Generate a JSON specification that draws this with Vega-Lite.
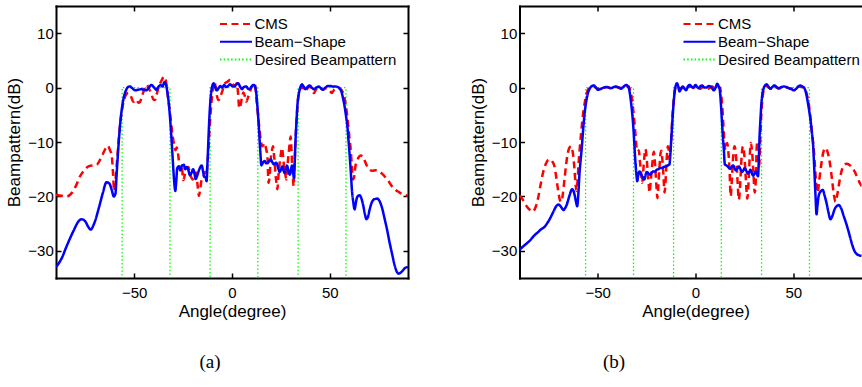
{
  "$schema": "https://vega.github.io/schema/vega-lite/v6.json",
  "padding": {"left": 5, "top": 5, "right": 0, "bottom": 0},
  "bounds": "flush",
  "spacing": 111.5,
  "config": {
    "font": "Liberation Sans",
    "view": {"stroke": null},
    "axis": {
      "domainColor": "black", "domainWidth": 2, "domainCap": "square",
      "tickColor": "black", "tickWidth": 1.5, "tickSize": -5,
      "labelColor": "black", "labelFontSize": 15, "labelFont": "Liberation Sans",
      "titleFont": "Liberation Sans", "titleFontSize": 17, "titleFontWeight": "normal", "titleColor": "black",
      "grid": false, "zindex": 1
    },
    "title": {"font": "Liberation Serif", "fontSize": 19, "fontWeight": "normal", "color": "black"}
  },
  "datasets": {
    "a": [
      {"series":"Desired Beampattern","angle":-56.2,"dB":-40,"seq":1},
      {"series":"Desired Beampattern","angle":-56.2,"dB":0,"seq":2},
      {"series":"Desired Beampattern","angle":-31.7,"dB":0,"seq":3},
      {"series":"Desired Beampattern","angle":-31.7,"dB":-40,"seq":4},
      {"series":"Desired Beampattern","angle":-11.2,"dB":-40,"seq":5},
      {"series":"Desired Beampattern","angle":-11.2,"dB":0,"seq":6},
      {"series":"Desired Beampattern","angle":13.2,"dB":0,"seq":7},
      {"series":"Desired Beampattern","angle":13.2,"dB":-40,"seq":8},
      {"series":"Desired Beampattern","angle":33.8,"dB":-40,"seq":9},
      {"series":"Desired Beampattern","angle":33.8,"dB":0,"seq":10},
      {"series":"Desired Beampattern","angle":58.3,"dB":0,"seq":11},
      {"series":"Desired Beampattern","angle":58.3,"dB":-40,"seq":12},
      {"series":"CMS","angle":-90,"dB":-19.7},{"series":"CMS","angle":-87,"dB":-19.9},{"series":"CMS","angle":-84.5,"dB":-20.0},{"series":"CMS","angle":-82,"dB":-19.4},{"series":"CMS","angle":-80,"dB":-18.2},{"series":"CMS","angle":-77.7,"dB":-16.3},{"series":"CMS","angle":-75.5,"dB":-15.2},{"series":"CMS","angle":-73.4,"dB":-14.5},{"series":"CMS","angle":-71,"dB":-14.3},{"series":"CMS","angle":-69.2,"dB":-14.2},{"series":"CMS","angle":-67.5,"dB":-13.3},{"series":"CMS","angle":-66,"dB":-12.2},{"series":"CMS","angle":-64.5,"dB":-11.1},{"series":"CMS","angle":-63.5,"dB":-10.7},{"series":"CMS","angle":-62.4,"dB":-11.5},{"series":"CMS","angle":-61.5,"dB":-12.5},{"series":"CMS","angle":-60.8,"dB":-16.0},{"series":"CMS","angle":-60.3,"dB":-19.0},{"series":"CMS","angle":-59.7,"dB":-17.5},{"series":"CMS","angle":-59,"dB":-14.5},{"series":"CMS","angle":-58.2,"dB":-10.8},{"series":"CMS","angle":-57.3,"dB":-7.1},{"series":"CMS","angle":-56.2,"dB":-4.0},{"series":"CMS","angle":-55.2,"dB":-2.3},{"series":"CMS","angle":-54,"dB":-1.2},{"series":"CMS","angle":-53,"dB":-1.0},{"series":"CMS","angle":-51.8,"dB":-1.5},{"series":"CMS","angle":-50.4,"dB":-2.6},{"series":"CMS","angle":-49,"dB":-2.2},{"series":"CMS","angle":-47.8,"dB":-2.8},{"series":"CMS","angle":-47,"dB":-2.6},{"series":"CMS","angle":-46,"dB":-1.5},{"series":"CMS","angle":-44.8,"dB":-0.3},{"series":"CMS","angle":-43.6,"dB":0.5},{"series":"CMS","angle":-42.5,"dB":-0.2},{"series":"CMS","angle":-41.3,"dB":-1.0},{"series":"CMS","angle":-40.2,"dB":-2.2},{"series":"CMS","angle":-39.4,"dB":-2.3},{"series":"CMS","angle":-38.5,"dB":-1.2},{"series":"CMS","angle":-37.6,"dB":0},{"series":"CMS","angle":-36.6,"dB":0.9},{"series":"CMS","angle":-35.6,"dB":1.6},{"series":"CMS","angle":-35,"dB":2.0},{"series":"CMS","angle":-34.2,"dB":1.8},{"series":"CMS","angle":-33.5,"dB":0.5},{"series":"CMS","angle":-32.7,"dB":-1.8},{"series":"CMS","angle":-31.7,"dB":-4.7},{"series":"CMS","angle":-31,"dB":-7.0},{"series":"CMS","angle":-30.3,"dB":-9.0},{"series":"CMS","angle":-29.6,"dB":-10.5},{"series":"CMS","angle":-28.9,"dB":-11.5},{"series":"CMS","angle":-28.3,"dB":-11.0},{"series":"CMS","angle":-27.5,"dB":-12.4},{"series":"CMS","angle":-26.6,"dB":-15.2},{"series":"CMS","angle":-25.7,"dB":-14.5},{"series":"CMS","angle":-24.9,"dB":-17.0},{"series":"CMS","angle":-24,"dB":-15.8},{"series":"CMS","angle":-23.3,"dB":-14.8},{"series":"CMS","angle":-22.3,"dB":-14.6},{"series":"CMS","angle":-21.5,"dB":-15.9},{"series":"CMS","angle":-20.8,"dB":-16.5},{"series":"CMS","angle":-20.1,"dB":-16.9},{"series":"CMS","angle":-19.2,"dB":-15.8},{"series":"CMS","angle":-18.4,"dB":-15.6},{"series":"CMS","angle":-17.7,"dB":-17.6},{"series":"CMS","angle":-16.9,"dB":-19.9},{"series":"CMS","angle":-16.2,"dB":-18.5},{"series":"CMS","angle":-15.5,"dB":-16.9},{"series":"CMS","angle":-14.7,"dB":-16.6},{"series":"CMS","angle":-13.8,"dB":-15.5},{"series":"CMS","angle":-13.3,"dB":-16.1},{"series":"CMS","angle":-12.5,"dB":-13.8},{"series":"CMS","angle":-11.6,"dB":-8.5},{"series":"CMS","angle":-10.9,"dB":-4.5},{"series":"CMS","angle":-10.4,"dB":-2.3},{"series":"CMS","angle":-9.5,"dB":0.5},{"series":"CMS","angle":-9,"dB":1.0},{"series":"CMS","angle":-8.4,"dB":0.2},{"series":"CMS","angle":-7.7,"dB":-1.5},{"series":"CMS","angle":-7,"dB":-2.3},{"series":"CMS","angle":-6.2,"dB":-2.0},{"series":"CMS","angle":-5.3,"dB":-1.0},{"series":"CMS","angle":-4.4,"dB":-0.1},{"series":"CMS","angle":-3.6,"dB":0.8},{"series":"CMS","angle":-2.3,"dB":1.1},{"series":"CMS","angle":-1,"dB":1.4},{"series":"CMS","angle":0,"dB":1.0},{"series":"CMS","angle":0.7,"dB":0.5},{"series":"CMS","angle":1.6,"dB":0.3},{"series":"CMS","angle":2.4,"dB":0.8},{"series":"CMS","angle":3.1,"dB":-1.0},{"series":"CMS","angle":3.7,"dB":-3.8},{"series":"CMS","angle":4.4,"dB":-3.2},{"series":"CMS","angle":5.1,"dB":-1.8},{"series":"CMS","angle":5.8,"dB":-0.9},{"series":"CMS","angle":6.6,"dB":-1.6},{"series":"CMS","angle":7.3,"dB":-2.6},{"series":"CMS","angle":8.2,"dB":-1.8},{"series":"CMS","angle":9.0,"dB":-1.0},{"series":"CMS","angle":9.8,"dB":-0.1},{"series":"CMS","angle":10.7,"dB":0.5},{"series":"CMS","angle":11.4,"dB":0.8},{"series":"CMS","angle":12.0,"dB":0.0},{"series":"CMS","angle":12.6,"dB":-2.5},{"series":"CMS","angle":13.3,"dB":-5.0},{"series":"CMS","angle":14.0,"dB":-7.5},{"series":"CMS","angle":14.7,"dB":-9.6},{"series":"CMS","angle":15.4,"dB":-10.8},{"series":"CMS","angle":16.0,"dB":-10.6},{"series":"CMS","angle":16.7,"dB":-10.2},{"series":"CMS","angle":17.4,"dB":-11.2},{"series":"CMS","angle":18.1,"dB":-12.6},{"series":"CMS","angle":18.7,"dB":-17.5},{"series":"CMS","angle":19.3,"dB":-16.0},{"series":"CMS","angle":19.8,"dB":-13.2},{"series":"CMS","angle":20.4,"dB":-11.6},{"series":"CMS","angle":21,"dB":-10.8},{"series":"CMS","angle":21.6,"dB":-12.8},{"series":"CMS","angle":22.2,"dB":-15.7},{"series":"CMS","angle":22.7,"dB":-17.5},{"series":"CMS","angle":23.2,"dB":-18.7},{"series":"CMS","angle":23.8,"dB":-16.0},{"series":"CMS","angle":24.4,"dB":-13.8},{"series":"CMS","angle":25,"dB":-12.2},{"series":"CMS","angle":25.6,"dB":-11.1},{"series":"CMS","angle":26.1,"dB":-12.6},{"series":"CMS","angle":26.6,"dB":-14.5},{"series":"CMS","angle":27.2,"dB":-15.8},{"series":"CMS","angle":27.8,"dB":-16.9},{"series":"CMS","angle":28.4,"dB":-14.2},{"series":"CMS","angle":29,"dB":-12.0},{"series":"CMS","angle":29.5,"dB":-10.2},{"series":"CMS","angle":30,"dB":-9.0},{"series":"CMS","angle":30.4,"dB":-11.5},{"series":"CMS","angle":30.8,"dB":-14.5},{"series":"CMS","angle":31.2,"dB":-16.8},{"series":"CMS","angle":31.5,"dB":-18.1},{"series":"CMS","angle":32,"dB":-14.0},{"series":"CMS","angle":32.5,"dB":-9.6},{"series":"CMS","angle":33.1,"dB":-5.5},{"series":"CMS","angle":33.7,"dB":-2.3},{"series":"CMS","angle":34.4,"dB":-0.8},{"series":"CMS","angle":35.1,"dB":-0.1},{"series":"CMS","angle":35.8,"dB":0.1},{"series":"CMS","angle":36.6,"dB":-0.2},{"series":"CMS","angle":37.5,"dB":-0.7},{"series":"CMS","angle":38.5,"dB":-0.2},{"series":"CMS","angle":39.7,"dB":0.2},{"series":"CMS","angle":40.8,"dB":-0.4},{"series":"CMS","angle":41.9,"dB":-1.0},{"series":"CMS","angle":43,"dB":-0.3},{"series":"CMS","angle":44.3,"dB":0.1},{"series":"CMS","angle":45.4,"dB":-0.1},{"series":"CMS","angle":46.5,"dB":-0.4},{"series":"CMS","angle":47.8,"dB":-0.1},{"series":"CMS","angle":49.1,"dB":-0.2},{"series":"CMS","angle":50.1,"dB":-0.6},{"series":"CMS","angle":51.1,"dB":-1.0},{"series":"CMS","angle":52.2,"dB":-0.4},{"series":"CMS","angle":53.3,"dB":-0.1},{"series":"CMS","angle":54.6,"dB":-0.1},{"series":"CMS","angle":55.9,"dB":-0.4},{"series":"CMS","angle":56.8,"dB":-1.0},{"series":"CMS","angle":57.6,"dB":-2.0},{"series":"CMS","angle":58.5,"dB":-4.0},{"series":"CMS","angle":59.3,"dB":-6.5},{"series":"CMS","angle":60,"dB":-9.0},{"series":"CMS","angle":60.7,"dB":-11.4},{"series":"CMS","angle":61.3,"dB":-14.5},{"series":"CMS","angle":61.9,"dB":-16.9},{"series":"CMS","angle":62.4,"dB":-16.5},{"series":"CMS","angle":63.1,"dB":-14.5},{"series":"CMS","angle":64,"dB":-13.4},{"series":"CMS","angle":64.8,"dB":-12.8},{"series":"CMS","angle":65.8,"dB":-12.5},{"series":"CMS","angle":66.8,"dB":-12.6},{"series":"CMS","angle":67.8,"dB":-13.4},{"series":"CMS","angle":69,"dB":-14.4},{"series":"CMS","angle":70.4,"dB":-15.1},{"series":"CMS","angle":71.8,"dB":-15.3},{"series":"CMS","angle":73.3,"dB":-15.2},{"series":"CMS","angle":74.6,"dB":-15.3},{"series":"CMS","angle":75.7,"dB":-15.5},{"series":"CMS","angle":77,"dB":-15.9},{"series":"CMS","angle":78.5,"dB":-16.5},{"series":"CMS","angle":79.9,"dB":-17.1},{"series":"CMS","angle":81.5,"dB":-18.0},{"series":"CMS","angle":83.2,"dB":-18.7},{"series":"CMS","angle":84.9,"dB":-19.1},{"series":"CMS","angle":86.6,"dB":-19.5},{"series":"CMS","angle":88.3,"dB":-19.7},{"series":"CMS","angle":90,"dB":-19.9},
      {"series":"Beam−Shape","angle":-90,"dB":-33.0},{"series":"Beam−Shape","angle":-87,"dB":-31.3},{"series":"Beam−Shape","angle":-84.5,"dB":-29.1},{"series":"Beam−Shape","angle":-81,"dB":-26.3},{"series":"Beam−Shape","angle":-78.5,"dB":-24.6},{"series":"Beam−Shape","angle":-76.9,"dB":-24.2},{"series":"Beam−Shape","angle":-75,"dB":-24.6},{"series":"Beam−Shape","angle":-73.5,"dB":-25.6},{"series":"Beam−Shape","angle":-72.3,"dB":-26.1},{"series":"Beam−Shape","angle":-70.5,"dB":-25.0},{"series":"Beam−Shape","angle":-68,"dB":-22.0},{"series":"Beam−Shape","angle":-66,"dB":-19.3},{"series":"Beam−Shape","angle":-64.2,"dB":-17.4},{"series":"Beam−Shape","angle":-62.8,"dB":-17.6},{"series":"Beam−Shape","angle":-61.5,"dB":-18.8},{"series":"Beam−Shape","angle":-60.5,"dB":-20.0},{"series":"Beam−Shape","angle":-59.6,"dB":-19.5},{"series":"Beam−Shape","angle":-59,"dB":-16.0},{"series":"Beam−Shape","angle":-58.2,"dB":-11.5},{"series":"Beam−Shape","angle":-57.3,"dB":-7.1},{"series":"Beam−Shape","angle":-56.3,"dB":-3.8},{"series":"Beam−Shape","angle":-55.2,"dB":-1.6},{"series":"Beam−Shape","angle":-54.2,"dB":-0.5},{"series":"Beam−Shape","angle":-53.2,"dB":0.1},{"series":"Beam−Shape","angle":-52.2,"dB":0.2},{"series":"Beam−Shape","angle":-51,"dB":-0.1},{"series":"Beam−Shape","angle":-49.5,"dB":-0.5},{"series":"Beam−Shape","angle":-48,"dB":-0.4},{"series":"Beam−Shape","angle":-46.5,"dB":-0.3},{"series":"Beam−Shape","angle":-45,"dB":-0.4},{"series":"Beam−Shape","angle":-43.8,"dB":-0.5},{"series":"Beam−Shape","angle":-42.5,"dB":0},{"series":"Beam−Shape","angle":-41.2,"dB":0.5},{"series":"Beam−Shape","angle":-40,"dB":0.1},{"series":"Beam−Shape","angle":-38.7,"dB":-0.4},{"series":"Beam−Shape","angle":-37.5,"dB":0.2},{"series":"Beam−Shape","angle":-36.5,"dB":0.5},{"series":"Beam−Shape","angle":-35.5,"dB":0.2},{"series":"Beam−Shape","angle":-34.6,"dB":1.0},{"series":"Beam−Shape","angle":-33.8,"dB":0.6},{"series":"Beam−Shape","angle":-33,"dB":-1.0},{"series":"Beam−Shape","angle":-32.3,"dB":-3.0},{"series":"Beam−Shape","angle":-31.7,"dB":-5.5},{"series":"Beam−Shape","angle":-31.1,"dB":-8.5},{"series":"Beam−Shape","angle":-30.5,"dB":-12},{"series":"Beam−Shape","angle":-30,"dB":-15},{"series":"Beam−Shape","angle":-29.4,"dB":-18.0},{"series":"Beam−Shape","angle":-29,"dB":-19.0},{"series":"Beam−Shape","angle":-28.5,"dB":-17.2},{"series":"Beam−Shape","angle":-28,"dB":-14.8},{"series":"Beam−Shape","angle":-27.2,"dB":-14.5},{"series":"Beam−Shape","angle":-26.4,"dB":-15.2},{"series":"Beam−Shape","angle":-25.5,"dB":-14.3},{"series":"Beam−Shape","angle":-24.6,"dB":-14.2},{"series":"Beam−Shape","angle":-24,"dB":-15.0},{"series":"Beam−Shape","angle":-23.1,"dB":-14.6},{"series":"Beam−Shape","angle":-22.3,"dB":-15.2},{"series":"Beam−Shape","angle":-21.5,"dB":-16.1},{"series":"Beam−Shape","angle":-20.6,"dB":-15.6},{"series":"Beam−Shape","angle":-19.9,"dB":-15.0},{"series":"Beam−Shape","angle":-19.2,"dB":-15.8},{"series":"Beam−Shape","angle":-18.6,"dB":-16.8},{"series":"Beam−Shape","angle":-17.8,"dB":-16.2},{"series":"Beam−Shape","angle":-17,"dB":-15.3},{"series":"Beam−Shape","angle":-16.2,"dB":-14.6},{"series":"Beam−Shape","angle":-15.5,"dB":-14.3},{"series":"Beam−Shape","angle":-14.8,"dB":-15.4},{"series":"Beam−Shape","angle":-14.2,"dB":-16.4},{"series":"Beam−Shape","angle":-13.5,"dB":-16.5},{"series":"Beam−Shape","angle":-13,"dB":-17.2},{"series":"Beam−Shape","angle":-12.5,"dB":-13.5},{"series":"Beam−Shape","angle":-12,"dB":-9.0},{"series":"Beam−Shape","angle":-11.5,"dB":-5.0},{"series":"Beam−Shape","angle":-11,"dB":-2.2},{"series":"Beam−Shape","angle":-10.5,"dB":-0.5},{"series":"Beam−Shape","angle":-10,"dB":0.4},{"series":"Beam−Shape","angle":-9.4,"dB":0.8},{"series":"Beam−Shape","angle":-8.7,"dB":0.2},{"series":"Beam−Shape","angle":-7.8,"dB":-0.5},{"series":"Beam−Shape","angle":-7,"dB":-0.2},{"series":"Beam−Shape","angle":-6,"dB":0.3},{"series":"Beam−Shape","angle":-5,"dB":0.0},{"series":"Beam−Shape","angle":-4,"dB":0.5},{"series":"Beam−Shape","angle":-3,"dB":0.1},{"series":"Beam−Shape","angle":-2,"dB":0.3},{"series":"Beam−Shape","angle":-1,"dB":0.6},{"series":"Beam−Shape","angle":0,"dB":0.3},{"series":"Beam−Shape","angle":1,"dB":0.2},{"series":"Beam−Shape","angle":2,"dB":0.5},{"series":"Beam−Shape","angle":3.1,"dB":0.8},{"series":"Beam−Shape","angle":4,"dB":0.3},{"series":"Beam−Shape","angle":5.1,"dB":-0.3},{"series":"Beam−Shape","angle":6,"dB":0.1},{"series":"Beam−Shape","angle":7.3,"dB":0.2},{"series":"Beam−Shape","angle":8.2,"dB":-0.2},{"series":"Beam−Shape","angle":9,"dB":-0.3},{"series":"Beam−Shape","angle":10,"dB":0.2},{"series":"Beam−Shape","angle":11.2,"dB":0.5},{"series":"Beam−Shape","angle":11.9,"dB":0.1},{"series":"Beam−Shape","angle":12.4,"dB":-1.0},{"series":"Beam−Shape","angle":13,"dB":-3.5},{"series":"Beam−Shape","angle":13.6,"dB":-6.5},{"series":"Beam−Shape","angle":14.1,"dB":-9.5},{"series":"Beam−Shape","angle":14.6,"dB":-12.5},{"series":"Beam−Shape","angle":15,"dB":-14.3},{"series":"Beam−Shape","angle":15.8,"dB":-13.8},{"series":"Beam−Shape","angle":16.7,"dB":-13.5},{"series":"Beam−Shape","angle":17.5,"dB":-13.9},{"series":"Beam−Shape","angle":18.4,"dB":-13.8},{"series":"Beam−Shape","angle":19.1,"dB":-13.4},{"series":"Beam−Shape","angle":19.8,"dB":-13.2},{"series":"Beam−Shape","angle":20.6,"dB":-13.7},{"series":"Beam−Shape","angle":21.5,"dB":-14.1},{"series":"Beam−Shape","angle":22.1,"dB":-13.9},{"series":"Beam−Shape","angle":22.7,"dB":-13.8},{"series":"Beam−Shape","angle":23.6,"dB":-14.8},{"series":"Beam−Shape","angle":24.4,"dB":-15.5},{"series":"Beam−Shape","angle":25.1,"dB":-15.0},{"series":"Beam−Shape","angle":25.7,"dB":-14.5},{"series":"Beam−Shape","angle":26.3,"dB":-15.2},{"series":"Beam−Shape","angle":26.9,"dB":-15.7},{"series":"Beam−Shape","angle":27.5,"dB":-15.0},{"series":"Beam−Shape","angle":28.1,"dB":-14.3},{"series":"Beam−Shape","angle":28.8,"dB":-15.2},{"series":"Beam−Shape","angle":29.5,"dB":-16.0},{"series":"Beam−Shape","angle":30.1,"dB":-15.2},{"series":"Beam−Shape","angle":30.7,"dB":-14.3},{"series":"Beam−Shape","angle":31.2,"dB":-15.5},{"series":"Beam−Shape","angle":31.7,"dB":-16.6},{"series":"Beam−Shape","angle":32.1,"dB":-13.5},{"series":"Beam−Shape","angle":32.5,"dB":-9.6},{"series":"Beam−Shape","angle":33,"dB":-6.0},{"series":"Beam−Shape","angle":33.4,"dB":-3.5},{"series":"Beam−Shape","angle":34,"dB":-1.5},{"series":"Beam−Shape","angle":34.6,"dB":-0.4},{"series":"Beam−Shape","angle":35.2,"dB":0.3},{"series":"Beam−Shape","angle":35.8,"dB":0.6},{"series":"Beam−Shape","angle":36.6,"dB":0.2},{"series":"Beam−Shape","angle":37.5,"dB":-0.3},{"series":"Beam−Shape","angle":38.6,"dB":0.1},{"series":"Beam−Shape","angle":39.7,"dB":0.4},{"series":"Beam−Shape","angle":40.8,"dB":0.0},{"series":"Beam−Shape","angle":41.9,"dB":-0.3},{"series":"Beam−Shape","angle":43.1,"dB":0.0},{"series":"Beam−Shape","angle":44.3,"dB":0.2},{"series":"Beam−Shape","angle":45.4,"dB":-0.1},{"series":"Beam−Shape","angle":46.5,"dB":-0.4},{"series":"Beam−Shape","angle":47.8,"dB":0.0},{"series":"Beam−Shape","angle":49.1,"dB":0.3},{"series":"Beam−Shape","angle":50.3,"dB":0.3},{"series":"Beam−Shape","angle":51.6,"dB":0.2},{"series":"Beam−Shape","angle":52.9,"dB":0.2},{"series":"Beam−Shape","angle":54.2,"dB":0.1},{"series":"Beam−Shape","angle":55.1,"dB":-0.2},{"series":"Beam−Shape","angle":55.9,"dB":-0.7},{"series":"Beam−Shape","angle":56.8,"dB":-2.0},{"series":"Beam−Shape","angle":57.6,"dB":-3.5},{"series":"Beam−Shape","angle":58.3,"dB":-5.2},{"series":"Beam−Shape","angle":59,"dB":-7.1},{"series":"Beam−Shape","angle":59.6,"dB":-9.8},{"series":"Beam−Shape","angle":60.2,"dB":-12.6},{"series":"Beam−Shape","angle":60.8,"dB":-15.8},{"series":"Beam−Shape","angle":61.3,"dB":-18.7},{"series":"Beam−Shape","angle":62,"dB":-21.0},{"series":"Beam−Shape","angle":62.7,"dB":-22.4},{"series":"Beam−Shape","angle":63.2,"dB":-21.5},{"series":"Beam−Shape","angle":63.7,"dB":-20.5},{"series":"Beam−Shape","angle":64.5,"dB":-19.9},{"series":"Beam−Shape","angle":65.3,"dB":-19.8},{"series":"Beam−Shape","angle":66.2,"dB":-20.4},{"series":"Beam−Shape","angle":67,"dB":-21.5},{"series":"Beam−Shape","angle":68,"dB":-23.3},{"series":"Beam−Shape","angle":68.7,"dB":-24.2},{"series":"Beam−Shape","angle":69.5,"dB":-23.8},{"series":"Beam−Shape","angle":70.4,"dB":-22.4},{"series":"Beam−Shape","angle":71.6,"dB":-21.0},{"series":"Beam−Shape","angle":72.9,"dB":-20.5},{"series":"Beam−Shape","angle":74.2,"dB":-20.4},{"series":"Beam−Shape","angle":75.5,"dB":-20.9},{"series":"Beam−Shape","angle":76.8,"dB":-22.2},{"series":"Beam−Shape","angle":78.1,"dB":-24.2},{"series":"Beam−Shape","angle":79.4,"dB":-26.3},{"series":"Beam−Shape","angle":80.6,"dB":-28.5},{"series":"Beam−Shape","angle":82,"dB":-30.8},{"series":"Beam−Shape","angle":83.2,"dB":-32.7},{"series":"Beam−Shape","angle":84.2,"dB":-33.8},{"series":"Beam−Shape","angle":85.2,"dB":-34.2},{"series":"Beam−Shape","angle":86.3,"dB":-34.0},{"series":"Beam−Shape","angle":87.4,"dB":-33.6},{"series":"Beam−Shape","angle":88.7,"dB":-33.1},{"series":"Beam−Shape","angle":90,"dB":-33.0}
    ],
    "b": [
      {"series":"Desired Beampattern","angle":-56.2,"dB":-40,"seq":1},
      {"series":"Desired Beampattern","angle":-56.2,"dB":0,"seq":2},
      {"series":"Desired Beampattern","angle":-31.7,"dB":0,"seq":3},
      {"series":"Desired Beampattern","angle":-31.7,"dB":-40,"seq":4},
      {"series":"Desired Beampattern","angle":-11.2,"dB":-40,"seq":5},
      {"series":"Desired Beampattern","angle":-11.2,"dB":0,"seq":6},
      {"series":"Desired Beampattern","angle":13.2,"dB":0,"seq":7},
      {"series":"Desired Beampattern","angle":13.2,"dB":-40,"seq":8},
      {"series":"Desired Beampattern","angle":33.8,"dB":-40,"seq":9},
      {"series":"Desired Beampattern","angle":33.8,"dB":0,"seq":10},
      {"series":"Desired Beampattern","angle":58.3,"dB":0,"seq":11},
      {"series":"Desired Beampattern","angle":58.3,"dB":-40,"seq":12},
      {"series":"CMS","angle":-90,"dB":-19.8},{"series":"CMS","angle":-88.5,"dB":-20.5},{"series":"CMS","angle":-87.4,"dB":-21.2},{"series":"CMS","angle":-85.5,"dB":-22.2},{"series":"CMS","angle":-84.2,"dB":-22.6},{"series":"CMS","angle":-83.2,"dB":-22.8},{"series":"CMS","angle":-82,"dB":-22.2},{"series":"CMS","angle":-80.6,"dB":-20.5},{"series":"CMS","angle":-79.3,"dB":-18.0},{"series":"CMS","angle":-78,"dB":-15.7},{"series":"CMS","angle":-76.5,"dB":-14.0},{"series":"CMS","angle":-75.3,"dB":-13.3},{"series":"CMS","angle":-74.3,"dB":-13.2},{"series":"CMS","angle":-73.4,"dB":-13.5},{"series":"CMS","angle":-72.1,"dB":-14.5},{"series":"CMS","angle":-71.2,"dB":-16.5},{"series":"CMS","angle":-70.2,"dB":-19.0},{"series":"CMS","angle":-69.3,"dB":-20.7},{"series":"CMS","angle":-68.6,"dB":-21.0},{"series":"CMS","angle":-67.8,"dB":-19.5},{"series":"CMS","angle":-67,"dB":-16.9},{"series":"CMS","angle":-66.1,"dB":-14.0},{"series":"CMS","angle":-65.3,"dB":-12.0},{"series":"CMS","angle":-64.4,"dB":-11.0},{"series":"CMS","angle":-63.6,"dB":-10.8},{"series":"CMS","angle":-62.8,"dB":-11.8},{"series":"CMS","angle":-62,"dB":-14.5},{"series":"CMS","angle":-61.4,"dB":-17.5},{"series":"CMS","angle":-60.9,"dB":-19.0},{"series":"CMS","angle":-60.3,"dB":-17.0},{"series":"CMS","angle":-59.8,"dB":-14.0},{"series":"CMS","angle":-59.2,"dB":-11.2},{"series":"CMS","angle":-58.5,"dB":-8.4},{"series":"CMS","angle":-57.6,"dB":-5.2},{"series":"CMS","angle":-56.7,"dB":-2.9},{"series":"CMS","angle":-55.8,"dB":-1.2},{"series":"CMS","angle":-55,"dB":-0.4},{"series":"CMS","angle":-54,"dB":0.0},{"series":"CMS","angle":-53,"dB":0.1},{"series":"CMS","angle":-52,"dB":0.2},{"series":"CMS","angle":-51,"dB":0.0},{"series":"CMS","angle":-50,"dB":-0.2},{"series":"CMS","angle":-49,"dB":-0.2},{"series":"CMS","angle":-48,"dB":0.0},{"series":"CMS","angle":-46.5,"dB":0.0},{"series":"CMS","angle":-45,"dB":0.1},{"series":"CMS","angle":-43.5,"dB":-0.1},{"series":"CMS","angle":-42,"dB":0.0},{"series":"CMS","angle":-40.5,"dB":0.1},{"series":"CMS","angle":-39,"dB":0.0},{"series":"CMS","angle":-37.5,"dB":-0.1},{"series":"CMS","angle":-36,"dB":0.1},{"series":"CMS","angle":-35,"dB":0.2},{"series":"CMS","angle":-34.1,"dB":0.2},{"series":"CMS","angle":-33.2,"dB":-0.8},{"series":"CMS","angle":-32.4,"dB":-2.3},{"series":"CMS","angle":-31.8,"dB":-4.3},{"series":"CMS","angle":-31.2,"dB":-6.5},{"series":"CMS","angle":-30.6,"dB":-9.0},{"series":"CMS","angle":-30,"dB":-11.4},{"series":"CMS","angle":-29.5,"dB":-11.8},{"series":"CMS","angle":-29,"dB":-11.5},{"series":"CMS","angle":-28.4,"dB":-13.6},{"series":"CMS","angle":-27.8,"dB":-15.7},{"series":"CMS","angle":-27.3,"dB":-17.5},{"series":"CMS","angle":-26.7,"dB":-15.2},{"series":"CMS","angle":-26.1,"dB":-12.6},{"series":"CMS","angle":-25.6,"dB":-11.3},{"series":"CMS","angle":-25.0,"dB":-12.8},{"series":"CMS","angle":-24.4,"dB":-15.7},{"series":"CMS","angle":-23.9,"dB":-17.8},{"series":"CMS","angle":-23.5,"dB":-19.3},{"series":"CMS","angle":-22.9,"dB":-17.2},{"series":"CMS","angle":-22.2,"dB":-14.5},{"series":"CMS","angle":-21.7,"dB":-12.5},{"series":"CMS","angle":-21.3,"dB":-11.8},{"series":"CMS","angle":-20.8,"dB":-13.5},{"series":"CMS","angle":-20.4,"dB":-15.7},{"series":"CMS","angle":-19.9,"dB":-18.5},{"series":"CMS","angle":-19.5,"dB":-20.3},{"series":"CMS","angle":-19,"dB":-18.0},{"series":"CMS","angle":-18.4,"dB":-14.5},{"series":"CMS","angle":-17.9,"dB":-12.2},{"series":"CMS","angle":-17.5,"dB":-11.6},{"series":"CMS","angle":-17,"dB":-13.0},{"series":"CMS","angle":-16.4,"dB":-16.0},{"series":"CMS","angle":-15.8,"dB":-19.3},{"series":"CMS","angle":-15.3,"dB":-17.2},{"series":"CMS","angle":-14.7,"dB":-13.0},{"series":"CMS","angle":-14.1,"dB":-10.8},{"series":"CMS","angle":-13.7,"dB":-11.5},{"series":"CMS","angle":-13.3,"dB":-13.2},{"series":"CMS","angle":-12.9,"dB":-12.0},{"series":"CMS","angle":-12.4,"dB":-9.6},{"series":"CMS","angle":-11.9,"dB":-6.0},{"series":"CMS","angle":-11.3,"dB":-2.9},{"series":"CMS","angle":-10.8,"dB":-1.0},{"series":"CMS","angle":-10.2,"dB":0.0},{"series":"CMS","angle":-9.5,"dB":0.3},{"series":"CMS","angle":-8.5,"dB":0.0},{"series":"CMS","angle":-7.5,"dB":-0.3},{"series":"CMS","angle":-6.5,"dB":0.0},{"series":"CMS","angle":-5.5,"dB":0.0},{"series":"CMS","angle":-4.5,"dB":-0.2},{"series":"CMS","angle":-3.5,"dB":0.1},{"series":"CMS","angle":-2.5,"dB":0.2},{"series":"CMS","angle":-1.5,"dB":0.0},{"series":"CMS","angle":-0.5,"dB":-0.1},{"series":"CMS","angle":0.5,"dB":0.2},{"series":"CMS","angle":1.5,"dB":0.0},{"series":"CMS","angle":2.5,"dB":-0.2},{"series":"CMS","angle":3.5,"dB":0.1},{"series":"CMS","angle":4.5,"dB":0.2},{"series":"CMS","angle":5.5,"dB":0.0},{"series":"CMS","angle":6.5,"dB":-0.2},{"series":"CMS","angle":7.5,"dB":0.0},{"series":"CMS","angle":8.5,"dB":0.2},{"series":"CMS","angle":9.5,"dB":0.0},{"series":"CMS","angle":10.5,"dB":-0.2},{"series":"CMS","angle":11.5,"dB":0.1},{"series":"CMS","angle":12.4,"dB":0.0},{"series":"CMS","angle":13.1,"dB":-1.2},{"series":"CMS","angle":13.7,"dB":-3.5},{"series":"CMS","angle":14.2,"dB":-6.5},{"series":"CMS","angle":14.7,"dB":-9.6},{"series":"CMS","angle":15.3,"dB":-11.5},{"series":"CMS","angle":16.2,"dB":-10.2},{"series":"CMS","angle":16.8,"dB":-11.8},{"series":"CMS","angle":17.4,"dB":-15.0},{"series":"CMS","angle":18,"dB":-20.0},{"series":"CMS","angle":18.6,"dB":-17.0},{"series":"CMS","angle":19.3,"dB":-12.5},{"series":"CMS","angle":20,"dB":-10.8},{"series":"CMS","angle":20.7,"dB":-12.5},{"series":"CMS","angle":21.4,"dB":-16.5},{"series":"CMS","angle":22.2,"dB":-20.6},{"series":"CMS","angle":22.9,"dB":-17.5},{"series":"CMS","angle":23.6,"dB":-12.6},{"series":"CMS","angle":24.3,"dB":-10.8},{"series":"CMS","angle":25,"dB":-12.5},{"series":"CMS","angle":25.7,"dB":-16.5},{"series":"CMS","angle":26.5,"dB":-20.4},{"series":"CMS","angle":27.2,"dB":-17.0},{"series":"CMS","angle":27.8,"dB":-12.2},{"series":"CMS","angle":28.3,"dB":-10.2},{"series":"CMS","angle":29,"dB":-12.0},{"series":"CMS","angle":29.6,"dB":-15.5},{"series":"CMS","angle":30.3,"dB":-19.3},{"series":"CMS","angle":30.9,"dB":-16.5},{"series":"CMS","angle":31.3,"dB":-11.0},{"series":"CMS","angle":31.7,"dB":-9.9},{"series":"CMS","angle":32.2,"dB":-11.5},{"series":"CMS","angle":32.6,"dB":-14.5},{"series":"CMS","angle":33,"dB":-11.0},{"series":"CMS","angle":33.5,"dB":-6.0},{"series":"CMS","angle":34,"dB":-3.0},{"series":"CMS","angle":34.6,"dB":-1.0},{"series":"CMS","angle":35.3,"dB":-0.1},{"series":"CMS","angle":36.3,"dB":0.3},{"series":"CMS","angle":37.5,"dB":0.0},{"series":"CMS","angle":38.5,"dB":-0.2},{"series":"CMS","angle":39.5,"dB":0.1},{"series":"CMS","angle":40.5,"dB":0.2},{"series":"CMS","angle":41.5,"dB":0.0},{"series":"CMS","angle":42.5,"dB":-0.2},{"series":"CMS","angle":44,"dB":0.0},{"series":"CMS","angle":45.5,"dB":0.1},{"series":"CMS","angle":47,"dB":0.0},{"series":"CMS","angle":48.5,"dB":-0.2},{"series":"CMS","angle":50,"dB":-0.1},{"series":"CMS","angle":51.5,"dB":0.1},{"series":"CMS","angle":53,"dB":0.2},{"series":"CMS","angle":54.5,"dB":0.1},{"series":"CMS","angle":55.5,"dB":-0.1},{"series":"CMS","angle":56.2,"dB":-0.4},{"series":"CMS","angle":57.1,"dB":-1.5},{"series":"CMS","angle":57.9,"dB":-2.9},{"series":"CMS","angle":58.5,"dB":-4.6},{"series":"CMS","angle":59.1,"dB":-6.5},{"series":"CMS","angle":59.8,"dB":-9.0},{"series":"CMS","angle":60.5,"dB":-11.4},{"series":"CMS","angle":61.1,"dB":-14.5},{"series":"CMS","angle":61.7,"dB":-17.5},{"series":"CMS","angle":62.5,"dB":-19.3},{"series":"CMS","angle":63.3,"dB":-17.0},{"series":"CMS","angle":64.2,"dB":-14.5},{"series":"CMS","angle":65.3,"dB":-12.0},{"series":"CMS","angle":66.5,"dB":-11.1},{"series":"CMS","angle":67.6,"dB":-11.9},{"series":"CMS","angle":68.7,"dB":-13.8},{"series":"CMS","angle":69.7,"dB":-16.5},{"series":"CMS","angle":70.7,"dB":-19.5},{"series":"CMS","angle":71.6,"dB":-21.0},{"series":"CMS","angle":72.6,"dB":-19.5},{"series":"CMS","angle":73.8,"dB":-16.9},{"series":"CMS","angle":74.8,"dB":-15.2},{"series":"CMS","angle":75.8,"dB":-14.4},{"series":"CMS","angle":77.2,"dB":-14.0},{"series":"CMS","angle":78.7,"dB":-14.2},{"series":"CMS","angle":80.1,"dB":-14.7},{"series":"CMS","angle":81.5,"dB":-15.5},{"series":"CMS","angle":82.7,"dB":-16.5},{"series":"CMS","angle":84,"dB":-17.5},{"series":"CMS","angle":85.2,"dB":-18.2},{"series":"CMS","angle":87.5,"dB":-19.3},{"series":"CMS","angle":90,"dB":-20.3},
      {"series":"Beam−Shape","angle":-90,"dB":-29.8},{"series":"Beam−Shape","angle":-87.5,"dB":-29.0},{"series":"Beam−Shape","angle":-84.9,"dB":-28.2},{"series":"Beam−Shape","angle":-82.5,"dB":-27.2},{"series":"Beam−Shape","angle":-80.6,"dB":-26.6},{"series":"Beam−Shape","angle":-78.8,"dB":-26.0},{"series":"Beam−Shape","angle":-77.2,"dB":-25.6},{"series":"Beam−Shape","angle":-75.8,"dB":-24.9},{"series":"Beam−Shape","angle":-74.6,"dB":-24.2},{"series":"Beam−Shape","angle":-72.8,"dB":-22.9},{"series":"Beam−Shape","angle":-71.2,"dB":-21.8},{"series":"Beam−Shape","angle":-70.2,"dB":-21.5},{"series":"Beam−Shape","angle":-69,"dB":-21.8},{"series":"Beam−Shape","angle":-67.5,"dB":-22.5},{"series":"Beam−Shape","angle":-66.6,"dB":-22.1},{"series":"Beam−Shape","angle":-65.8,"dB":-21.5},{"series":"Beam−Shape","angle":-64.4,"dB":-19.8},{"series":"Beam−Shape","angle":-63.1,"dB":-18.7},{"series":"Beam−Shape","angle":-62.5,"dB":-18.9},{"series":"Beam−Shape","angle":-61.9,"dB":-19.6},{"series":"Beam−Shape","angle":-61.1,"dB":-21.0},{"series":"Beam−Shape","angle":-60.5,"dB":-21.8},{"series":"Beam−Shape","angle":-59.9,"dB":-19.5},{"series":"Beam−Shape","angle":-59.3,"dB":-15.7},{"series":"Beam−Shape","angle":-58.7,"dB":-13.2},{"series":"Beam−Shape","angle":-58.1,"dB":-10.8},{"series":"Beam−Shape","angle":-57.4,"dB":-7.5},{"series":"Beam−Shape","angle":-56.7,"dB":-4.7},{"series":"Beam−Shape","angle":-55.8,"dB":-2.4},{"series":"Beam−Shape","angle":-55,"dB":-1.0},{"series":"Beam−Shape","angle":-54.1,"dB":-0.2},{"series":"Beam−Shape","angle":-53.3,"dB":0.2},{"series":"Beam−Shape","angle":-52,"dB":0.4},{"series":"Beam−Shape","angle":-50.9,"dB":0.0},{"series":"Beam−Shape","angle":-49.9,"dB":-0.4},{"series":"Beam−Shape","angle":-48.9,"dB":-0.3},{"series":"Beam−Shape","angle":-48.2,"dB":-0.2},{"series":"Beam−Shape","angle":-47,"dB":0.0},{"series":"Beam−Shape","angle":-45.7,"dB":0.1},{"series":"Beam−Shape","angle":-44.4,"dB":0.0},{"series":"Beam−Shape","angle":-43.1,"dB":-0.1},{"series":"Beam−Shape","angle":-41.8,"dB":0.1},{"series":"Beam−Shape","angle":-40.6,"dB":0.2},{"series":"Beam−Shape","angle":-39.3,"dB":0.0},{"series":"Beam−Shape","angle":-38,"dB":-0.2},{"series":"Beam−Shape","angle":-36.7,"dB":0.2},{"series":"Beam−Shape","angle":-35.4,"dB":0.5},{"series":"Beam−Shape","angle":-34.7,"dB":0.3},{"series":"Beam−Shape","angle":-34.1,"dB":-0.1},{"series":"Beam−Shape","angle":-33.5,"dB":-1.2},{"series":"Beam−Shape","angle":-32.9,"dB":-2.9},{"series":"Beam−Shape","angle":-32.3,"dB":-5.0},{"series":"Beam−Shape","angle":-31.7,"dB":-7.7},{"series":"Beam−Shape","angle":-31.2,"dB":-10.8},{"series":"Beam−Shape","angle":-30.7,"dB":-13.8},{"series":"Beam−Shape","angle":-30.2,"dB":-16.0},{"series":"Beam−Shape","angle":-29.8,"dB":-17.2},{"series":"Beam−Shape","angle":-29.2,"dB":-16.0},{"series":"Beam−Shape","angle":-28.6,"dB":-15.4},{"series":"Beam−Shape","angle":-28,"dB":-15.8},{"series":"Beam−Shape","angle":-27.3,"dB":-16.3},{"series":"Beam−Shape","angle":-26.7,"dB":-16.8},{"series":"Beam−Shape","angle":-26.1,"dB":-16.9},{"series":"Beam−Shape","angle":-25.5,"dB":-16.0},{"series":"Beam−Shape","angle":-24.9,"dB":-15.5},{"series":"Beam−Shape","angle":-24,"dB":-15.8},{"series":"Beam−Shape","angle":-23.2,"dB":-16.0},{"series":"Beam−Shape","angle":-22.3,"dB":-15.6},{"series":"Beam−Shape","angle":-21.5,"dB":-15.4},{"series":"Beam−Shape","angle":-20.6,"dB":-15.4},{"series":"Beam−Shape","angle":-19.8,"dB":-15.1},{"series":"Beam−Shape","angle":-19,"dB":-15.0},{"series":"Beam−Shape","angle":-18.1,"dB":-14.8},{"series":"Beam−Shape","angle":-17.2,"dB":-14.8},{"series":"Beam−Shape","angle":-16.4,"dB":-14.6},{"series":"Beam−Shape","angle":-15.3,"dB":-14.5},{"series":"Beam−Shape","angle":-14.1,"dB":-14.3},{"series":"Beam−Shape","angle":-13.3,"dB":-14.1},{"series":"Beam−Shape","angle":-12.9,"dB":-12.5},{"series":"Beam−Shape","angle":-12.4,"dB":-9.6},{"series":"Beam−Shape","angle":-11.8,"dB":-6.0},{"series":"Beam−Shape","angle":-11.2,"dB":-2.9},{"series":"Beam−Shape","angle":-10.7,"dB":-1.0},{"series":"Beam−Shape","angle":-10.2,"dB":0.2},{"series":"Beam−Shape","angle":-9.5,"dB":0.8},{"series":"Beam−Shape","angle":-8.8,"dB":0.2},{"series":"Beam−Shape","angle":-8.2,"dB":-0.7},{"series":"Beam−Shape","angle":-7.3,"dB":-0.1},{"series":"Beam−Shape","angle":-6.5,"dB":0.2},{"series":"Beam−Shape","angle":-5.6,"dB":-0.2},{"series":"Beam−Shape","angle":-4.8,"dB":-0.5},{"series":"Beam−Shape","angle":-3.9,"dB":0.2},{"series":"Beam−Shape","angle":-3,"dB":0.5},{"series":"Beam−Shape","angle":-2,"dB":0.2},{"series":"Beam−Shape","angle":-1,"dB":0.0},{"series":"Beam−Shape","angle":0,"dB":0.5},{"series":"Beam−Shape","angle":0.9,"dB":0.1},{"series":"Beam−Shape","angle":1.7,"dB":-0.1},{"series":"Beam−Shape","angle":2.6,"dB":0.3},{"series":"Beam−Shape","angle":3.4,"dB":0.4},{"series":"Beam−Shape","angle":4.5,"dB":0.0},{"series":"Beam−Shape","angle":5.6,"dB":0.0},{"series":"Beam−Shape","angle":6.8,"dB":0.3},{"series":"Beam−Shape","angle":8.1,"dB":0.1},{"series":"Beam−Shape","angle":9.4,"dB":-0.5},{"series":"Beam−Shape","angle":10.3,"dB":0.0},{"series":"Beam−Shape","angle":11.1,"dB":0.7},{"series":"Beam−Shape","angle":11.8,"dB":0.3},{"series":"Beam−Shape","angle":12.4,"dB":-0.4},{"series":"Beam−Shape","angle":13,"dB":-3.0},{"series":"Beam−Shape","angle":13.6,"dB":-6.6},{"series":"Beam−Shape","angle":14.1,"dB":-9.5},{"series":"Beam−Shape","angle":14.5,"dB":-11.4},{"series":"Beam−Shape","angle":15,"dB":-14.1},{"series":"Beam−Shape","angle":15.8,"dB":-14.3},{"series":"Beam−Shape","angle":16.5,"dB":-14.5},{"series":"Beam−Shape","angle":17.2,"dB":-14.8},{"series":"Beam−Shape","angle":17.9,"dB":-14.9},{"series":"Beam−Shape","angle":18.6,"dB":-14.5},{"series":"Beam−Shape","angle":19.3,"dB":-14.3},{"series":"Beam−Shape","angle":19.9,"dB":-14.8},{"series":"Beam−Shape","angle":20.6,"dB":-15.2},{"series":"Beam−Shape","angle":21.4,"dB":-14.9},{"series":"Beam−Shape","angle":22.2,"dB":-14.5},{"series":"Beam−Shape","angle":23,"dB":-15.0},{"series":"Beam−Shape","angle":23.9,"dB":-15.5},{"series":"Beam−Shape","angle":24.5,"dB":-15.2},{"series":"Beam−Shape","angle":25.2,"dB":-14.8},{"series":"Beam−Shape","angle":26,"dB":-15.3},{"series":"Beam−Shape","angle":26.8,"dB":-15.8},{"series":"Beam−Shape","angle":27.5,"dB":-15.5},{"series":"Beam−Shape","angle":28.1,"dB":-15.1},{"series":"Beam−Shape","angle":28.8,"dB":-15.7},{"series":"Beam−Shape","angle":29.5,"dB":-16.2},{"series":"Beam−Shape","angle":30.2,"dB":-15.8},{"series":"Beam−Shape","angle":30.8,"dB":-15.4},{"series":"Beam−Shape","angle":31.4,"dB":-15.9},{"series":"Beam−Shape","angle":32,"dB":-16.3},{"series":"Beam−Shape","angle":32.4,"dB":-13.0},{"series":"Beam−Shape","angle":32.7,"dB":-9.6},{"series":"Beam−Shape","angle":33.2,"dB":-6.0},{"series":"Beam−Shape","angle":33.6,"dB":-3.5},{"series":"Beam−Shape","angle":34.2,"dB":-1.2},{"series":"Beam−Shape","angle":34.9,"dB":-0.1},{"series":"Beam−Shape","angle":35.6,"dB":0.4},{"series":"Beam−Shape","angle":36.3,"dB":0.6},{"series":"Beam−Shape","angle":37.3,"dB":0.2},{"series":"Beam−Shape","angle":38.3,"dB":-0.2},{"series":"Beam−Shape","angle":39.3,"dB":0.1},{"series":"Beam−Shape","angle":40.4,"dB":0.4},{"series":"Beam−Shape","angle":41.5,"dB":0.1},{"series":"Beam−Shape","angle":42.6,"dB":-0.1},{"series":"Beam−Shape","angle":44,"dB":0.1},{"series":"Beam−Shape","angle":45.2,"dB":0.2},{"series":"Beam−Shape","angle":46.5,"dB":0.1},{"series":"Beam−Shape","angle":47.8,"dB":-0.1},{"series":"Beam−Shape","angle":49.1,"dB":-0.3},{"series":"Beam−Shape","angle":50.3,"dB":-0.5},{"series":"Beam−Shape","angle":51.5,"dB":-0.2},{"series":"Beam−Shape","angle":52.6,"dB":0.2},{"series":"Beam−Shape","angle":53.7,"dB":0.4},{"series":"Beam−Shape","angle":54.7,"dB":0.2},{"series":"Beam−Shape","angle":55.7,"dB":-0.1},{"series":"Beam−Shape","angle":56.4,"dB":-0.8},{"series":"Beam−Shape","angle":57.1,"dB":-2.0},{"series":"Beam−Shape","angle":57.9,"dB":-3.7},{"series":"Beam−Shape","angle":58.8,"dB":-5.9},{"series":"Beam−Shape","angle":59.5,"dB":-8.2},{"series":"Beam−Shape","angle":60.2,"dB":-10.8},{"series":"Beam−Shape","angle":60.6,"dB":-13.8},{"series":"Beam−Shape","angle":61,"dB":-16.9},{"series":"Beam−Shape","angle":61.4,"dB":-20.0},{"series":"Beam−Shape","angle":61.9,"dB":-23.3},{"series":"Beam−Shape","angle":62.4,"dB":-21.6},{"series":"Beam−Shape","angle":63,"dB":-19.9},{"series":"Beam−Shape","angle":64,"dB":-19.1},{"series":"Beam−Shape","angle":65.1,"dB":-18.8},{"series":"Beam−Shape","angle":66,"dB":-19.8},{"series":"Beam−Shape","angle":67,"dB":-21.2},{"series":"Beam−Shape","angle":68,"dB":-22.9},{"series":"Beam−Shape","angle":69,"dB":-24.2},{"series":"Beam−Shape","angle":70,"dB":-23.6},{"series":"Beam−Shape","angle":71.1,"dB":-22.4},{"series":"Beam−Shape","angle":72.2,"dB":-21.8},{"series":"Beam−Shape","angle":73.3,"dB":-21.6},{"series":"Beam−Shape","angle":74.5,"dB":-22.2},{"series":"Beam−Shape","angle":75.8,"dB":-23.6},{"series":"Beam−Shape","angle":77.1,"dB":-25.0},{"series":"Beam−Shape","angle":78.4,"dB":-26.6},{"series":"Beam−Shape","angle":79.6,"dB":-28.2},{"series":"Beam−Shape","angle":80.9,"dB":-29.7},{"series":"Beam−Shape","angle":82.2,"dB":-30.5},{"series":"Beam−Shape","angle":83.5,"dB":-30.8},{"series":"Beam−Shape","angle":84.5,"dB":-30.9},{"series":"Beam−Shape","angle":85.5,"dB":-30.8},{"series":"Beam−Shape","angle":87.5,"dB":-30.5},{"series":"Beam−Shape","angle":90,"dB":-30.2}
    ]
  },
  "hconcat": [
    {
      "width": 352, "height": 272,
      "data": {"name": "a"},
      "title": {"text": "(a)", "orient": "bottom", "anchor": "middle", "dx": -22, "offset": 34},
      "layer": [
        {
          "transform": [{"filter": "datum.series === 'Desired Beampattern'"}],
          "mark": {"type": "line", "clip": true, "strokeWidth": 1.3},
          "encoding": {
            "x": {"field": "angle", "type": "quantitative", "scale": {"domain": [-90, 90], "nice": false, "zero": false}, "axis": null},
            "y": {"field": "dB", "type": "quantitative", "scale": {"domain": [-35, 15], "nice": false, "zero": false}, "axis": null},
            "order": {"field": "seq"},
            "color": {"field": "series", "type": "nominal", "scale": {"domain": ["CMS", "Beam−Shape", "Desired Beampattern"], "range": ["#ff0000", "#0000ff", "#00ff00"]},
              "legend": {"orient": "none", "legendX": 164, "legendY": 10.5, "title": null, "symbolType": "M-4,0H4", "symbolSize": 64, "symbolOffset": 8.5, "labelOffset": 11, "symbolStrokeWidth": 2, "labelFontSize": 15, "labelColor": "black", "rowPadding": 1.8, "padding": 0}},
            "strokeDash": {"field": "series", "type": "nominal", "scale": {"domain": ["CMS", "Beam−Shape", "Desired Beampattern"], "range": [[7, 4.5], [1, 0], [1.5, 2.2]]},
              "legend": {"orient": "none", "legendX": 164, "legendY": 10.5, "title": null, "symbolType": "M-4,0H4", "symbolSize": 64, "symbolOffset": 8.5, "labelOffset": 11, "symbolStrokeWidth": 2, "labelFontSize": 15, "labelColor": "black", "rowPadding": 1.8, "padding": 0}}
          }
        },
        {
          "transform": [{"filter": "datum.series === 'CMS'"}],
          "mark": {"type": "line", "clip": true, "strokeWidth": 2.5, "interpolate": "monotone"},
          "encoding": {
            "x": {"field": "angle", "type": "quantitative", "scale": {"domain": [-90, 90], "nice": false, "zero": false},
              "axis": {"orient": "bottom", "values": [-50, 0, 50], "title": "Angle(degree)", "labelPadding": 12, "titlePadding": 3}},
            "y": {"field": "dB", "type": "quantitative", "scale": {"domain": [-35, 15], "nice": false, "zero": false},
              "axis": {"orient": "left", "values": [-30, -20, -10, 0, 10], "title": "Beampattern(dB)", "labelPadding": 7.7, "titlePadding": 4}},
            "color": {"field": "series", "type": "nominal"},
            "strokeDash": {"field": "series", "type": "nominal"}
          }
        },
        {
          "transform": [{"filter": "datum.series === 'Beam−Shape'"}],
          "mark": {"type": "line", "clip": true, "strokeWidth": 2.5, "interpolate": "monotone"},
          "encoding": {
            "x": {"field": "angle", "type": "quantitative", "scale": {"domain": [-90, 90], "nice": false, "zero": false},
              "axis": {"orient": "top", "values": [-50, 0, 50], "labels": false, "title": null}},
            "y": {"field": "dB", "type": "quantitative", "scale": {"domain": [-35, 15], "nice": false, "zero": false},
              "axis": {"orient": "right", "values": [-30, -20, -10, 0, 10], "labels": false, "title": null}},
            "color": {"field": "series", "type": "nominal"},
            "strokeDash": {"field": "series", "type": "nominal"}
          }
        }
      ],
      "resolve": {"axis": {"x": "independent", "y": "independent"}}
    },
    {
      "width": 342, "height": 272,
      "data": {"name": "b"},
      "title": {"text": "(b)", "orient": "bottom", "anchor": "middle", "dx": -76.5, "offset": 34},
      "layer": [
        {
          "transform": [{"filter": "datum.series === 'Desired Beampattern'"}],
          "mark": {"type": "line", "clip": true, "strokeWidth": 1.3},
          "encoding": {
            "x": {"field": "angle", "type": "quantitative", "scale": {"domain": [-90, 84.9], "nice": false, "zero": false}, "axis": null},
            "y": {"field": "dB", "type": "quantitative", "scale": {"domain": [-35, 15], "nice": false, "zero": false}, "axis": null},
            "order": {"field": "seq"},
            "color": {"field": "series", "type": "nominal", "scale": {"domain": ["CMS", "Beam−Shape", "Desired Beampattern"], "range": ["#ff0000", "#0000ff", "#00ff00"]},
              "legend": {"orient": "none", "legendX": 164, "legendY": 10.5, "title": null, "symbolType": "M-4,0H4", "symbolSize": 64, "symbolOffset": 8.5, "labelOffset": 11, "symbolStrokeWidth": 2, "labelFontSize": 15, "labelColor": "black", "rowPadding": 1.8, "padding": 0}},
            "strokeDash": {"field": "series", "type": "nominal", "scale": {"domain": ["CMS", "Beam−Shape", "Desired Beampattern"], "range": [[7, 4.5], [1, 0], [1.5, 2.2]]},
              "legend": {"orient": "none", "legendX": 164, "legendY": 10.5, "title": null, "symbolType": "M-4,0H4", "symbolSize": 64, "symbolOffset": 8.5, "labelOffset": 11, "symbolStrokeWidth": 2, "labelFontSize": 15, "labelColor": "black", "rowPadding": 1.8, "padding": 0}}
          }
        },
        {
          "transform": [{"filter": "datum.series === 'CMS'"}],
          "mark": {"type": "line", "clip": true, "strokeWidth": 2.5, "interpolate": "monotone"},
          "encoding": {
            "x": {"field": "angle", "type": "quantitative", "scale": {"domain": [-90, 84.9], "nice": false, "zero": false},
              "axis": {"orient": "bottom", "values": [-50, 0, 50], "title": "Angle(degree)", "titleX": 176, "labelPadding": 12, "titlePadding": 3}},
            "y": {"field": "dB", "type": "quantitative", "scale": {"domain": [-35, 15], "nice": false, "zero": false},
              "axis": {"orient": "left", "values": [-30, -20, -10, 0, 10], "title": "Beampattern(dB)", "labelPadding": 7.7, "titlePadding": 4}},
            "color": {"field": "series", "type": "nominal"},
            "strokeDash": {"field": "series", "type": "nominal"}
          }
        },
        {
          "transform": [{"filter": "datum.series === 'Beam−Shape'"}],
          "mark": {"type": "line", "clip": true, "strokeWidth": 2.5, "interpolate": "monotone"},
          "encoding": {
            "x": {"field": "angle", "type": "quantitative", "scale": {"domain": [-90, 84.9], "nice": false, "zero": false},
              "axis": {"orient": "top", "values": [-50, 0, 50], "labels": false, "title": null}},
            "y": {"field": "dB", "type": "quantitative", "scale": {"domain": [-35, 15], "nice": false, "zero": false}, "axis": null},
            "color": {"field": "series", "type": "nominal"},
            "strokeDash": {"field": "series", "type": "nominal"}
          }
        }
      ],
      "resolve": {"axis": {"x": "independent", "y": "independent"}}
    }
  ],
  "resolve": {
    "scale": {"x": "independent", "y": "independent", "color": "independent", "strokeDash": "independent"},
    "legend": {"color": "independent", "strokeDash": "independent"}
  }
}
